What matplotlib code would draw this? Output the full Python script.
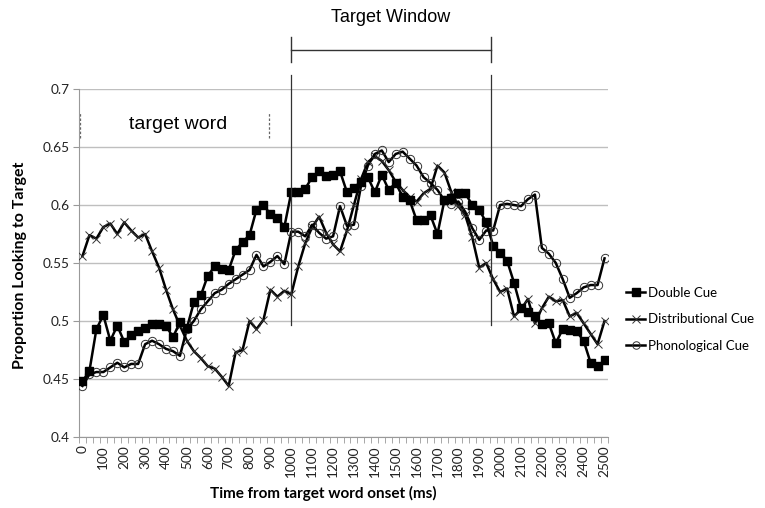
#!/usr/bin/env python
"""Proportion of looking to target over time, three cue conditions (Excel-style line chart)."""

import numpy as np
import matplotlib

matplotlib.use("Agg")
import matplotlib.pyplot as plt  # noqa: E402

# 76 samples, 0..2500 ms in ~33 ms bins (category axis)
time_ms = np.linspace(0, 2500, 76)
tick_labels = [str(t) for t in range(0, 2501, 100)]

double_cue = [
    0.448, 0.457, 0.493, 0.505, 0.483, 0.496, 0.482, 0.488, 0.491, 0.494,
    0.497, 0.497, 0.496, 0.486, 0.499, 0.494, 0.516, 0.522, 0.539, 0.547,
    0.545, 0.544, 0.561, 0.568, 0.574, 0.596, 0.600, 0.592, 0.589, 0.581,
    0.611, 0.611, 0.614, 0.624, 0.629, 0.625, 0.626, 0.629, 0.611, 0.615,
    0.620, 0.624, 0.611, 0.626, 0.613, 0.619, 0.607, 0.604, 0.587, 0.587,
    0.591, 0.575, 0.604, 0.606, 0.610, 0.610, 0.600, 0.596, 0.585, 0.565,
    0.559, 0.552, 0.533, 0.511, 0.508, 0.504, 0.497, 0.498, 0.481, 0.493,
    0.492, 0.491, 0.483, 0.464, 0.461, 0.466,
]
distributional_cue = [
    0.556, 0.574, 0.571, 0.581, 0.584, 0.575, 0.585, 0.578, 0.572, 0.575,
    0.560, 0.546, 0.527, 0.510, 0.496, 0.483, 0.474, 0.468, 0.461, 0.459,
    0.452, 0.444, 0.473, 0.475, 0.500, 0.493, 0.501, 0.527, 0.521, 0.526,
    0.523, 0.547, 0.567, 0.581, 0.590, 0.576, 0.566, 0.560, 0.578, 0.600,
    0.622, 0.637, 0.642, 0.638, 0.630, 0.620, 0.613, 0.607, 0.603, 0.610,
    0.614, 0.634, 0.628, 0.611, 0.599, 0.591, 0.572, 0.546, 0.550, 0.536,
    0.525, 0.528, 0.504, 0.510, 0.519, 0.498, 0.511, 0.521, 0.517, 0.518,
    0.504, 0.507, 0.498, 0.489, 0.480, 0.500,
]
phonological_cue = [
    0.444, 0.454, 0.456, 0.456, 0.460, 0.464, 0.460, 0.463, 0.463, 0.480,
    0.483, 0.480, 0.476, 0.474, 0.470, 0.493, 0.500, 0.510, 0.517, 0.524,
    0.527, 0.532, 0.536, 0.540, 0.544, 0.557, 0.547, 0.551, 0.556, 0.549,
    0.577, 0.577, 0.573, 0.583, 0.576, 0.571, 0.573, 0.599, 0.582, 0.583,
    0.616, 0.634, 0.644, 0.647, 0.637, 0.644, 0.646, 0.640, 0.634, 0.624,
    0.619, 0.613, 0.604, 0.601, 0.603, 0.594, 0.580, 0.570, 0.578, 0.578,
    0.600, 0.601, 0.600, 0.599, 0.605, 0.609, 0.563, 0.558, 0.550, 0.536,
    0.520, 0.524, 0.529, 0.531, 0.531, 0.554,
]

window_ms = (1000, 1955)
word_marks_ms = (-12, 893)

plt.rcParams["font.family"] = ["Lato", "DejaVu Sans"]
fig = plt.figure(figsize=(7.65, 5.08), dpi=100, facecolor="white")
ax = fig.add_axes([79 / 765, 1 - 437 / 508, 529 / 765, 348 / 508])

x = np.arange(len(time_ms))
ms2x = lambda ms: ms / (2500 / 75)  # noqa: E731

ax.plot(x, double_cue, color="black", lw=1.8, marker="s", ms=6, mfc="black", mec="black",
        label="Double Cue", zorder=4)
ax.plot(x, distributional_cue, color="black", lw=1.8, marker="x", ms=6, mew=0.7, mec="#333333",
        label="Distributional Cue", zorder=3)
ax.plot(x, phonological_cue, color="black", lw=1.8, marker="o", ms=6, mew=0.7, mfc="none",
        mec="#333333", label="Phonological Cue", zorder=3)

ax.set_xlim(-0.5, 75.5)
ax.set_ylim(0.4, 0.7)
ax.set_yticks(np.arange(0.4, 0.701, 0.05))
ax.set_yticklabels(["0.4", "0.45", "0.5", "0.55", "0.6", "0.65", "0.7"])
ax.set_xticks(x[::3])
ax.set_xticklabels(tick_labels, rotation=90)
ax.set_xticks(np.arange(-0.5, 76, 1), minor=True)
ax.tick_params(axis="x", which="major", length=0, pad=6, labelsize=9.8, colors="#222222")
ax.tick_params(axis="x", which="minor", length=4, color="#999999", direction="out")
ax.tick_params(axis="y", length=4, color="#999999", labelsize=9.8, colors="#222222", pad=3)
ax.yaxis.grid(True, color="#bfbfbf", lw=1.0)
ax.set_axisbelow(True)
for s in ("top", "right"):
    ax.spines[s].set_visible(False)
for s in ("left", "bottom"):
    ax.spines[s].set_color("#999999")

fig.text(323 / 765, 1 - 493 / 508, "Time from target word onset (ms)", ha="center", va="center",
         fontsize=11, fontweight="bold")
fig.text(20 / 765, 1 - 265 / 508, "Proportion Looking to Target", ha="center", va="center",
         rotation=90, fontsize=11.5, fontweight="bold")

# target window bracket + vertical markers
xl, xr = ms2x(window_ms[0]), ms2x(window_ms[1])
ax.plot([xl, xr], [0.7336, 0.7336], color="#333333", lw=1.0, clip_on=False)
for xv in (xl, xr):
    ax.plot([xv, xv], [0.7233, 0.7448], color="#333333", lw=1.0, clip_on=False)
    ax.plot([xv, xv], [0.4966, 0.712], color="#333333", lw=0.9, clip_on=False, zorder=5)
ax.text((xl + xr) / 2, 0.762, "Target Window", ha="center", va="center", fontsize=13,
        family=["Liberation Sans", "DejaVu Sans"], clip_on=False)

# target word span
for ms in word_marks_ms:
    ax.plot([ms2x(ms)] * 2, [0.658, 0.680], color="#666666", lw=0.9, ls=(0, (2, 1.5)), clip_on=False)
ax.text(ms2x(460), 0.6695, "target word", ha="center", va="center", fontsize=14,
        family=["Liberation Sans", "DejaVu Sans"])

fig.legend(loc="upper left", bbox_to_anchor=(626 / 765, 1 - 287 / 508), frameon=False,
           fontsize=9.5, handlelength=1.45, handletextpad=0.2, labelspacing=1.08,
           borderpad=0, borderaxespad=0, markerscale=0.9)

fig.savefig("out.png", dpi=100, facecolor="white")
